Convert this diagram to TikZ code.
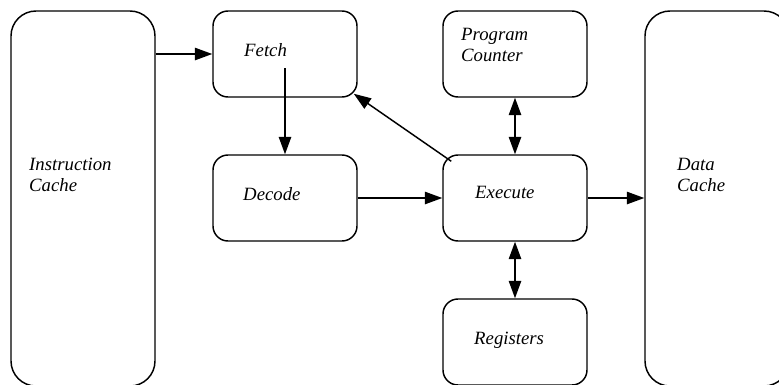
\documentclass[tikz,border=0pt]{standalone}
\usepackage{fontspec}
\setmainfont{Liberation Serif}
\usetikzlibrary{arrows.meta,calc}

\begin{document}
\begin{tikzpicture}[x=0.03cm,y=-0.03cm,
    stage/.style={draw, line width=1.25pt, rounded corners=0.45cm,
      minimum width=4.32cm, minimum height=2.58cm, inner sep=0},
    cache/.style={stage, rounded corners=0.75cm, minimum height=11.25cm},
    txt/.style={anchor=north west, inner sep=0, align=left,
      font=\fontsize{16}{17.5}\selectfont\itshape},
    arr/.style={line width=1.25pt, -{Triangle[length=0.52cm,width=0.37cm]}},
    darr/.style={line width=1.25pt,
      {Triangle[length=0.52cm,width=0.37cm]}-{Triangle[length=0.52cm,width=0.37cm]}}]
		\useasboundingbox (0,0) rectangle (779,384);
		\clip (0,0) rectangle (779,384);
		% boxes
		\node[cache] (icache) at (83,198.5) {};
		\node[cache] (dcache) at (717,198.5) {};
		\node[stage] (fetch) at (285,54) {};
		\node[stage] (decode) at (285,198) {};
		\node[stage] (pc) at (515,54) {};
		\node[stage] (exec) at (515,198) {};
		\node[stage] (regs) at (515,342) {};
		% text
		\node[txt] at (29,158) {Instruction\\Cache};
		\node[txt] at (677,158) {Data\\Cache};
		\node[txt] at (244,43) {Fetch};
		\node[txt] at (243,187) {Decode};
		\node[txt] at (461,28) {Program\\Counter};
		\node[txt] at (475,186) {Execute};
		\node[txt] at (474,332) {Registers};
		% arrows
		\coordinate (fetchout) at (285,68);
		\draw[arr] (fetch.west -| icache.east) -- (fetch.west);
		\draw[arr] (fetchout) -- (decode.north);
		\draw[arr] ($(exec.north west)+(9,7)$) -- ($(fetch.south east)+(-4,-4)$);
		\draw[arr] (decode.east) -- (decode.east -| exec.west);
		\draw[darr] (exec.north) -- (pc.south);
		\draw[darr] (exec.south) -- (regs.north);
		\draw[arr] (exec.east) -- (exec.east -| dcache.west);
	\end{tikzpicture}
\end{document}
